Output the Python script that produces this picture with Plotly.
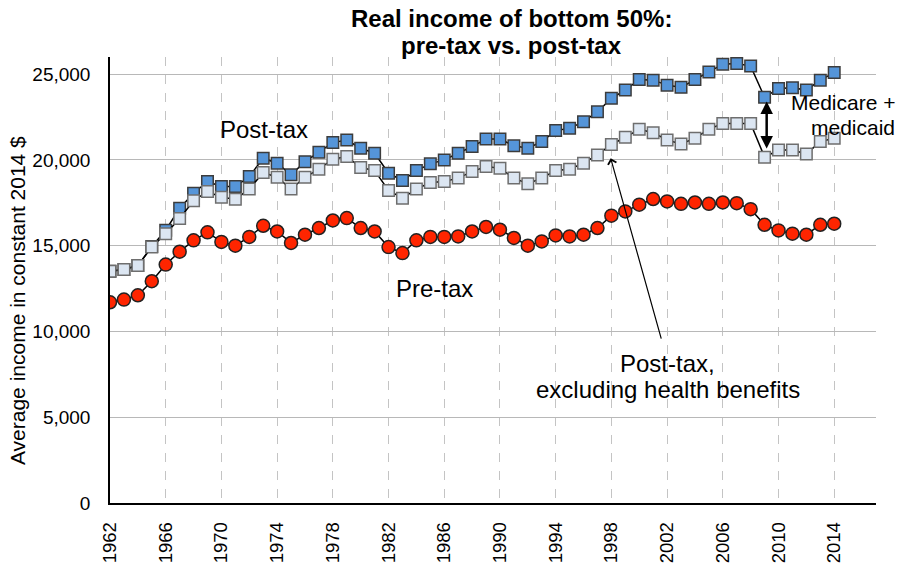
#!/usr/bin/env python3
"""
Plot real income of the bottom 50%: pre-tax vs. post-tax (constant 2014 $),
with annotations for health benefits (Medicare + medicaid).
"""

import plotly.graph_objects as go

# Data
years = list(range(1962, 2015))

pre_tax = [
    11700, 11860, 12110, 12930, 13900, 14650, 15310, 15780, 15220, 15000,
    15510, 16160, 15830, 15160, 15640, 16030, 16470, 16610, 16030, 15830,
    14920, 14570, 15310, 15510, 15510, 15540, 15830, 16090, 15930, 15450,
    15000, 15250, 15600, 15540, 15640, 16030, 16750, 17000, 17390, 17720,
    17580, 17440, 17520, 17440, 17520, 17480, 17130, 16220, 15890, 15700,
    15640, 16220, 16280,
]

post_tax = [
    13510, 13610, 13840, 14950, 15900, 17190, 18060, 18740, 18450, 18450,
    19030, 20100, 19810, 19130, 19900, 20450, 21010, 21160, 20680, 20390,
    19230, 18800, 19380, 19770, 20000, 20390, 20780, 21220, 21220, 20820,
    20680, 21070, 21710, 21840, 22230, 22810, 23590, 24070, 24690, 24650,
    24360, 24230, 24690, 25130, 25580, 25620, 25470, 23650, 24170, 24210,
    24070, 24650, 25090,
]

post_tax_excl_health = [
    13510, 13610, 13840, 14920, 15700, 16590, 17620, 18160, 17830, 17710,
    18300, 19260, 18990, 18300, 18990, 19460, 20040, 20200, 19560, 19380,
    18220, 17770, 18300, 18680, 18740, 18940, 19320, 19610, 19520, 18940,
    18610, 18940, 19380, 19460, 19810, 20290, 20900, 21320, 21790, 21590,
    21160, 20930, 21260, 21790, 22130, 22130, 22130, 20160, 20580, 20580,
    20350, 21070, 21260,
]

tick_years = list(range(1962, 2015, 4))
y_ticks = [0, 5000, 10000, 15000, 20000, 25000]

FONT = "Liberation Sans, Arial, sans-serif"


def add_series(fig, y, name, symbol, size, fill, edge):
    """Add one black line with markers."""
    fig.add_trace(go.Scatter(
        x=years,
        y=y,
        mode='lines+markers',
        name=name,
        line=dict(color='black', width=1.5),
        marker=dict(symbol=symbol, size=size, color=fill,
                    line=dict(color=edge, width=1.5)),
        showlegend=False,
    ))


def label(fig, text, x, y, size=24, **kw):
    fig.add_annotation(text=text, x=x, y=y, showarrow=False,
                       font=dict(size=size, color='black', family=FONT),
                       xanchor=kw.pop('xanchor', 'center'),
                       yanchor=kw.pop('yanchor', 'middle'), **kw)


def main():
    fig = go.Figure()

    add_series(fig, pre_tax, 'Pre-tax', 'circle', 13, '#FF2500', '#222222')
    add_series(fig, post_tax, 'Post-tax', 'square', 11.5, '#5595D9', '#3C3C3C')
    add_series(fig, post_tax_excl_health, 'Post-tax, excluding health benefits',
               'square', 11.5, '#DCE6F2', '#6E6E6E')

    # title (two lines placed separately to keep tight line spacing)
    label(fig, "<b>Real income of bottom 50%:</b>", 0.524, 1.086,
          xref='paper', yref='paper')
    label(fig, "<b>pre-tax vs. post-tax</b>", 0.524, 1.026,
          xref='paper', yref='paper')

    # y axis title
    label(fig, "Average income in constant 2014 $", -0.12, 0.453, size=21,
          xref='paper', yref='paper', textangle=-90)

    # series labels
    label(fig, "Post-tax", 1973.06, 21750)
    label(fig, "Pre-tax", 1985.31, 12530)
    label(fig, "Post-tax,", 2002.03, 8160)
    label(fig, "excluding health benefits", 2002.03, 6620)
    label(fig, "Medicare +", 1.027, 0.897, size=21, xref='paper',
          yref='paper', xanchor='right')
    label(fig, "medicaid", 1.027, 0.842, size=21, xref='paper',
          yref='paper', xanchor='right')

    # arrow to the excluding-health series
    fig.add_annotation(x=1997.95, y=20100, ax=2001.61, ay=9500,
                       xref='x', yref='y', axref='x', ayref='y',
                       text='', showarrow=True, arrowhead=4, arrowsize=1.4,
                       arrowwidth=1.2, arrowcolor='black')

    # double arrow for Medicare + medicaid gap
    fig.add_annotation(x=2009.15, y=23400, ax=2009.15, ay=20580,
                       xref='x', yref='y', axref='x', ayref='y',
                       text='', showarrow=True, arrowhead=2,
                       startarrowhead=2, arrowside='end+start',
                       arrowsize=1, startarrowsize=1,
                       arrowwidth=2.5, arrowcolor='black')

    fig.update_xaxes(
        range=[1962, 2017],
        tickvals=tick_years,
        ticktext=[str(t) for t in tick_years],
        tickangle=-90,
        tickfont=dict(size=18.5, color='black', family=FONT),
        ticks='',
        ticklabelstandoff=10,
        automargin=False,
        showgrid=True,
        gridcolor='#C4C4C4',
        gridwidth=1,
        griddash='dash',
        showline=True,
        linecolor='black',
        linewidth=1.5,
        zeroline=False,
    )
    fig.update_yaxes(
        range=[0, 26000],
        tickvals=y_ticks,
        tickformat=',d',
        tickfont=dict(size=19, color='black', family=FONT),
        ticks='',
        ticklabelstandoff=14,
        automargin=False,
        showgrid=True,
        gridcolor='#B8B8B8',
        gridwidth=1,
        showline=True,
        linecolor='black',
        linewidth=1.5,
        zeroline=False,
    )

    fig.update_layout(
        width=901,
        height=565,
        margin=dict(l=110, r=25, t=57, b=62),
        plot_bgcolor='white',
        paper_bgcolor='white',
        font=dict(family=FONT, color='black'),
        hovermode='closest',
    )

    # drop the default 8px body margin so the figure fills the window,
    # and hide the modebar so it does not cover the title
    fig.write_html("out.html",
                   config={'displayModeBar': False},
                   post_script="document.body.style.margin='0px';")
    print("Plot saved to out.html")


if __name__ == '__main__':
    main()
